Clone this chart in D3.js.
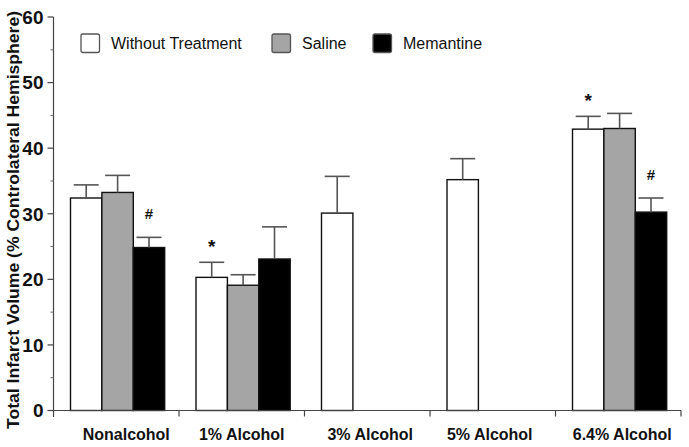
<!DOCTYPE html>
<html>
<head>
<meta charset="utf-8">
<script src="https://cdn.jsdelivr.net/npm/d3@7"></script>
<style>
  html, body { margin: 0; padding: 0; background: #fff; }
  svg { display: block; font-family: "Liberation Sans", Arial, Helvetica, sans-serif; }
</style>
</head>
<body>
<svg id="chart" width="689" height="447"></svg>
<script>
// ---- data ----
const categories = ["Nonalcohol", "1% Alcohol", "3% Alcohol", "5% Alcohol", "6.4% Alcohol"];
const seriesNames = ["Without Treatment", "Saline", "Memantine"];
const withoutTreatment = [32.4, 20.3, 30.1, 35.2, 42.9];
const withoutTreatmentErr = [2.0, 2.3, 5.6, 3.2, 1.95];
const saline = [33.25, 19.1, null, null, 43.0];
const salineErr = [2.6, 1.6, null, null, 2.3];
const memantine = [24.85, 23.1, null, null, 30.25];
const memantineErr = [1.55, 4.9, null, null, 2.15];
const withoutTreatmentMarks = [null, "*", null, null, "*"];
const salineMarks = [null, null, null, null, null];
const memantineMarks = ["#", null, null, null, "#"];
const yTicks = [0, 10, 20, 30, 40, 50, 60];
const yMinorTicks = [5, 15, 25, 35, 45, 55];

// ---- layout / style ----
const fills = ["#ffffff", "#a5a5a5", "#000000"];
const labelNudge = [10, 0, 3, -3, 4];
const svg = d3.select("#chart");
const y = d3.scaleLinear().domain([0, 60]).range([410.5, 17]);
const x0 = d3.scaleBand().domain(categories).range([53.5, 681]).paddingInner(0).paddingOuter(0);
const x1 = d3.scaleBand().domain(seriesNames).range([17, 17 + 94.2]).padding(0);

const values = [withoutTreatment, saline, memantine];
const errs = [withoutTreatmentErr, salineErr, memantineErr];
const marks = [withoutTreatmentMarks, salineMarks, memantineMarks];

const rows = [];
categories.forEach((c, ci) => {
  seriesNames.forEach((s, si) => {
    const v = values[si][ci];
    if (v == null) return;
    rows.push({ c, s, si, v, e: errs[si][ci], m: marks[si][ci] });
  });
});

// y axis
const yAxis = svg.append("g").attr("transform", "translate(53.5,0)");
yAxis.append("line").attr("x1", 0).attr("x2", 0).attr("y1", y(60)).attr("y2", 417)
  .attr("stroke", "#444").attr("stroke-width", 1.2);
yAxis.selectAll("line.maj").data(yTicks).join("line").attr("class", "maj")
  .attr("x1", -6).attr("x2", 0).attr("y1", d => y(d)).attr("y2", d => y(d))
  .attr("stroke", "#444").attr("stroke-width", 1.2);
yAxis.selectAll("line.min").data(yMinorTicks).join("line").attr("class", "min")
  .attr("x1", -3).attr("x2", 0).attr("y1", d => y(d)).attr("y2", d => y(d))
  .attr("stroke", "#666").attr("stroke-width", 1);
yAxis.selectAll("text").data(yTicks).join("text")
  .attr("x", -10).attr("y", d => y(d)).attr("dy", "0.36em")
  .attr("text-anchor", "end").attr("font-size", 19).attr("font-weight", "bold")
  .attr("fill", "#111").text(d => d);

// y title
svg.append("text")
  .attr("transform", "translate(19,220) rotate(-90)")
  .attr("text-anchor", "middle").attr("font-size", 16).attr("font-weight", "bold")
  .attr("fill", "#111")
  .attr("textLength", 418).attr("lengthAdjust", "spacingAndGlyphs")
  .text("Total Infarct Volume (% Controlateral Hemisphere)");

// bars
const bars = svg.append("g");
bars.selectAll("rect").data(rows).join("rect")
  .attr("x", d => x0(d.c) + x1(d.s))
  .attr("width", x1.bandwidth())
  .attr("y", d => y(d.v))
  .attr("height", d => y(0) - y(d.v))
  .attr("fill", d => fills[d.si])
  .attr("stroke", "#111").attr("stroke-width", 1.4);

// error bars
const eb = svg.append("g").attr("stroke", "#555").attr("stroke-width", 1.6);
eb.selectAll("line.stem").data(rows).join("line").attr("class", "stem")
  .attr("x1", d => x0(d.c) + x1(d.s) + x1.bandwidth() / 2)
  .attr("x2", d => x0(d.c) + x1(d.s) + x1.bandwidth() / 2)
  .attr("y1", d => y(d.v)).attr("y2", d => y(d.v + d.e));
eb.selectAll("line.cap").data(rows).join("line").attr("class", "cap")
  .attr("x1", d => x0(d.c) + x1(d.s) + x1.bandwidth() / 2 - 12.5)
  .attr("x2", d => x0(d.c) + x1(d.s) + x1.bandwidth() / 2 + 12.5)
  .attr("y1", d => y(d.v + d.e)).attr("y2", d => y(d.v + d.e));

// significance marks
svg.append("g").selectAll("text").data(rows.filter(d => d.m)).join("text")
  .attr("x", d => x0(d.c) + x1(d.s) + x1.bandwidth() / 2)
  .attr("y", d => y(d.v + d.e) - (d.m === "#" ? 18 : 9))
  .attr("text-anchor", "middle").attr("font-size", d => d.m === "#" ? 15 : 19).attr("font-weight", "bold")
  .attr("fill", "#111").text(d => d.m);

// x axis
const xAxis = svg.append("g");
xAxis.append("line").attr("x1", 53.5).attr("x2", 681).attr("y1", y(0)).attr("y2", y(0))
  .attr("stroke", "#444").attr("stroke-width", 1.2);
xAxis.selectAll("line.t").data(categories).join("line").attr("class", "t")
  .attr("x1", d => x0(d) + x0.bandwidth()).attr("x2", d => x0(d) + x0.bandwidth())
  .attr("y1", y(0)).attr("y2", y(0) + 6)
  .attr("stroke", "#444").attr("stroke-width", 1.2);
xAxis.selectAll("text").data(categories).join("text")
  .attr("x", (d, i) => x0(d) + x0.bandwidth() / 2 + labelNudge[i])
  .attr("y", 440)
  .attr("text-anchor", "middle").attr("font-size", 16).attr("font-weight", "bold")
  .attr("fill", "#111").text(d => d);

// legend
const legendX = [81, 272, 373];
const lg = svg.append("g");
seriesNames.forEach((s, i) => {
  lg.append("rect").attr("x", legendX[i]).attr("y", 34).attr("width", 18.5).attr("height", 18.5)
    .attr("rx", 2).attr("fill", fills[i]).attr("stroke", "#555").attr("stroke-width", 1.3);
  lg.append("text").attr("x", legendX[i] + 30).attr("y", 48.5)
    .attr("font-size", 16).attr("fill", "#111").text(s);
});
</script>
</body>
</html>
